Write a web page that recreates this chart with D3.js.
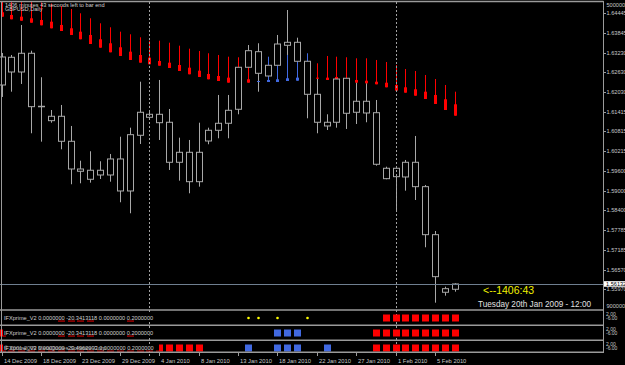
<!DOCTYPE html>
<html>
<head>
<meta charset="utf-8">
<script src="https://cdn.jsdelivr.net/npm/d3@7"></script>
<style>
html, body { margin: 0; padding: 0; background: #000; }
#root { width: 625px; height: 365px; overflow: hidden; }
text { font-family: "Liberation Sans", Arial, sans-serif; }
</style>
</head>
<body>
<div id="root"></div>
<script>
// daily bars, 14 Dec 2009 .. 5 Feb 2010
var opens = [1.62243,1.62642,1.62642,1.63217,1.61589,1.61282,1.61282,1.60514,1.59663,1.59624,1.59479,1.59479,1.59971,1.58988,1.60698,1.61343,1.61343,1.61098,1.59869,1.60176,1.59273,1.60523,1.60852,1.61067,1.61497,1.62787,1.63266,1.62519,1.62848,1.63462,1.63554,1.62971,1.61957,1.61098,1.61098,1.62449,1.61405,1.61743,1.61392,1.59685,1.59427,1.59418,1.59869,1.59120,1.57646,1.55987,1.55969];
var highs = [1.63226,1.63164,1.64086,1.63296,1.62480,1.61475,1.61629,1.60984,1.59918,1.60207,1.59900,1.60124,1.60655,1.60932,1.62344,1.61445,1.62397,1.61506,1.60625,1.60554,1.61085,1.60932,1.61936,1.61936,1.63063,1.63471,1.63524,1.62949,1.63779,1.64546,1.63696,1.63164,1.62827,1.61343,1.62550,1.62673,1.62335,1.62734,1.61782,1.59734,1.59725,1.59940,1.60677,1.59172,1.57759,1.56049,1.56153];
var lows = [1.61875,1.62037,1.62274,1.60760,1.60502,1.61085,1.60268,1.59194,1.59224,1.59243,1.59356,1.59273,1.58641,1.58303,1.60431,1.61199,1.60554,1.59633,1.59304,1.58917,1.59120,1.60422,1.60606,1.60606,1.61343,1.62642,1.62037,1.62458,1.62765,1.63164,1.62827,1.61220,1.60760,1.60861,1.60932,1.60892,1.61045,1.61098,1.59765,1.59347,1.58404,1.58997,1.58711,1.57259,1.55557,1.55772,1.55895];
var closes = [1.63103,1.63094,1.63217,1.61577,1.61580,1.61147,1.60514,1.59663,1.59593,1.59347,1.59624,1.59971,1.58988,1.60717,1.61405,1.61251,1.61085,1.59869,1.60176,1.59273,1.60176,1.60852,1.61067,1.61466,1.62787,1.63296,1.62602,1.62848,1.63502,1.63554,1.62971,1.61957,1.61098,1.60984,1.62427,1.61374,1.61743,1.61383,1.59808,1.59366,1.59685,1.59869,1.59120,1.57646,1.56356,1.55877,1.56132];

// trend stop indicator on the main window
var sigTop = [1.65007,1.64946,1.64915,1.64853,1.64777,1.64746,1.64669,1.64577,1.64445,1.64292,1.64138,1.64015,1.63880,1.63800,1.63708,1.63604,1.63604,1.63542,1.63450,1.63358,1.63287,1.63217,1.63164,1.63112,1.63094,1.63072,1.62366,1.63112,1.63103,1.63164,1.63318,1.63217,1.62909,1.63134,1.63112,1.63094,1.63063,1.63063,1.63011,1.62949,1.62857,1.62734,1.62673,1.62550,1.62427,1.62243,1.62037];
var sigMark = [1.64476,1.64393,1.64341,1.64291,1.64239,1.64187,1.64086,1.63984,1.63880,1.63779,1.63647,1.63524,1.63401,1.63266,1.63164,1.63082,1.62980,1.62928,1.62857,1.62774,1.62682,1.62581,1.62519,1.62468,1.62406,1.62418,1.62366,1.62397,1.62418,1.62449,1.62468,1.62473,1.62468,1.62468,1.62489,1.62418,1.62397,1.62375,1.62344,1.62313,1.62243,1.62172,1.62111,1.62037,1.61936,1.61804,1.61650];
var sigBottom = [1.64341,1.64261,1.64218,1.64156,1.64076,1.63984,1.63901,1.63779,1.63647,1.63502,1.63389,1.63247,1.63134,1.63011,1.62928,1.62879,1.62836,1.62765,1.62673,1.62572,1.62489,1.62418,1.62366,1.62315,1.62289,1.62315,1.62335,1.62335,1.62335,1.62366,1.62375,1.62397,1.62436,1.62397,1.62418,1.62326,1.62315,1.62295,1.62264,1.62172,1.62068,1.62007,1.61914,1.61813,1.61660,1.61475,1.61300];
var sigDir = [-1,-1,-1,-1,-1,-1,-1,-1,-1,-1,-1,-1,-1,-1,-1,-1,-1,-1,-1,-1,-1,-1,-1,-1,-1,-1,1,1,1,1,1,1,-1,-1,-1,-1,-1,-1,-1,-1,-1,-1,-1,-1,-1,-1,-1];

var priceTicks = [1.64445,1.63845,1.63230,1.62630,1.62030,1.61415,1.60815,1.60215,1.59600,1.59000,1.58400,1.57785,1.57185,1.56570,1.55970];
var lastPrice = 1.56132;

var dateBars = [0,4,8,12,16,20,24,28,32,36,40,44];
var dateLabels = ["14 Dec 2009","18 Dec 2009","23 Dec 2009","29 Dec 2009","4 Jan 2010","8 Jan 2010","13 Jan 2010","18 Jan 2010","22 Jan 2010","27 Jan 2010","1 Feb 2010","5 Feb 2010"];
var separatorBars = [15, 40];

// IFXprime_V2 sub windows (early squares sit behind the window labels)
var p1Dots = [25,26,28,31];
var p1Red = [6,7,8,9,13,39,40,41,42,43,44,45,46];
var p2Blue = [28,29,30];
var p2Red = [0,6,7,8,9,13,38,39,40,41,42,43,44,45,46];
var p3Blue = [25,28,29,30,33];
var p3Red = [0,1,2,3,4,5,6,7,8,9,10,11,12,13,14,15,16,17,18,19,20,38,39,40,41,42,43,44,45,46];
var panelLabels = [
    "IFXprime_V2 0.0000000 -20.3413118 0.0000000 0.2000000",
    "IFXprime_V2 0.0000000 -20.3413118 0.0000000 0.2000000",
    "IFXprime_V2 0.0000000 -20.4962093 0.0000000 0.2000000"
];

window.onload = function () {
    var W = 625, H = 365;
    var axisX = 603.5;
    var frame = "#9a9a9a", candle = "#a8a8a8";

    var svg = d3.select("#root")
        .append("svg")
        .attr("width", W)
        .attr("height", H)
        .style("background", "#000");

    var x = d3.scaleLinear().domain([0, 46]).range([1.6, 454.7]);
    var y = d3.scaleLinear().domain([1.55363, 1.64761]).range([309, 3]);
    var px = function (i) { return Math.round(x(i)) + 0.5; };

    svg.append("defs").append("clipPath").attr("id", "mainClip")
        .append("rect").attr("x", 0).attr("y", 2).attr("width", axisX).attr("height", 307.5);

    var main = svg.append("g").attr("clip-path", "url(#mainClip)");
    var bars = d3.range(opens.length);

    // period separators
    svg.selectAll(".sep").data(separatorBars).enter().append("line")
        .attr("x1", function (d) { return px(d); })
        .attr("x2", function (d) { return px(d); })
        .attr("y1", 2).attr("y2", 357)
        .attr("stroke", "#a0a0a0").attr("stroke-dasharray", "2,2");

    // candle wicks
    main.selectAll(".wick").data(bars).enter().append("line")
        .attr("x1", function (i) { return px(i); })
        .attr("x2", function (i) { return px(i); })
        .attr("y1", function (i) { return y(highs[i]); })
        .attr("y2", function (i) { return y(lows[i]); })
        .attr("stroke", candle);

    // indicator over the wicks, under the bodies
    var sigColor = function (i) { return sigDir[i] > 0 ? "#4169e1" : "#ff0000"; };
    main.selectAll(".sigLine").data(bars).enter().append("line")
        .attr("x1", function (i) { return px(i); })
        .attr("x2", function (i) { return px(i); })
        .attr("y1", function (i) { return y(sigTop[i]); })
        .attr("y2", function (i) { return y(sigBottom[i]); })
        .attr("stroke", sigColor).attr("stroke-width", 1);
    main.selectAll(".sigMark").data(bars).enter().append("rect")
        .attr("x", function (i) { return px(i) - 1.5; })
        .attr("width", 3)
        .attr("y", function (i) { return y(sigMark[i]); })
        .attr("height", function (i) { return Math.max(1, y(sigBottom[i]) - y(sigMark[i])); })
        .attr("fill", sigColor);

    // candle bodies
    main.selectAll(".body").data(bars).enter().append("rect")
        .attr("x", function (i) { return px(i) - 3; })
        .attr("width", 6)
        .attr("y", function (i) { return y(Math.max(opens[i], closes[i])); })
        .attr("height", function (i) { return Math.max(0.5, Math.abs(y(opens[i]) - y(closes[i]))); })
        .attr("fill", "#000").attr("stroke", candle);

    // bid line
    main.append("line")
        .attr("x1", 0).attr("x2", axisX)
        .attr("y1", Math.round(y(lastPrice)) + 0.5).attr("y2", Math.round(y(lastPrice)) + 0.5)
        .attr("stroke", "#6f7f90");

    // texts inside main window
    svg.append("text").attr("x", 5).attr("y", 7).attr("font-size", 5.6).attr("fill", "#d0d0d0")
        .text("1406 minutes 43 seconds left to bar end");
    svg.append("text").attr("x", 5).attr("y", 11).attr("font-size", 5.6).attr("fill", "#d0d0d0")
        .text("GBPUSD,Daily");
    svg.append("text").attr("x", 483).attr("y", 294).attr("font-size", 10.5).attr("fill", "#f0f000")
        .text("<--1406:43");
    svg.append("text").attr("x", 478).attr("y", 307).attr("font-size", 8.2).attr("fill", "#e0e0e0")
        .text("Tuesday 20th Jan 2009 - 12:00");

    // sub windows
    var panels = [
        { top: 311, bottom: 324.5, mid: 318, label: panelLabels[0], red: p1Red, blue: [], dots: p1Dots },
        { top: 326, bottom: 339.5, mid: 333, label: panelLabels[1], red: p2Red, blue: p2Blue, dots: [] },
        { top: 341, bottom: 352, mid: 348, label: panelLabels[2], red: p3Red, blue: p3Blue, dots: [] }
    ];
    panels.forEach(function (p) {
        var g = svg.append("g");
        g.selectAll(".sq").data(p.red.map(function (b) { return { b: b, c: "#ff0000" }; })
            .concat(p.blue.map(function (b) { return { b: b, c: "#4169e1" }; })))
            .enter().append("rect")
            .attr("x", function (d) { return px(d.b) - 3.5; })
            .attr("y", p.mid - 3.5)
            .attr("width", 7).attr("height", 7)
            .attr("fill", function (d) { return d.c; });
        g.selectAll(".dot").data(p.dots).enter().append("circle")
            .attr("cx", function (b) { return px(b); })
            .attr("cy", p.mid)
            .attr("r", 1.3)
            .attr("fill", "#ffff00");
        g.append("rect").attr("x", 3).attr("y", p.mid - 4).attr("width", 156).attr("height", 6.6).attr("fill", "#000");
        g.append("text").attr("x", 4).attr("y", p.mid + 2).attr("font-size", 5.6).attr("fill", "#d0d0d0")
            .text(p.label);
        g.append("text").attr("x", 606).attr("y", p.top + 5).attr("font-size", 5).attr("fill", "#c8c8c8").text("2.00");
        g.append("text").attr("x", 606).attr("y", p.top + 9).attr("font-size", 5).attr("fill", "#c8c8c8").text("-6.00");
    });
    svg.append("text").attr("x", 4).attr("y", 350).attr("font-size", 5.6).attr("fill", "#b0b0b0")
        .text("\u00a9 2001-2009 MetaQuotes Software Corp.");

    // frames
    var hLines = [1.5, 310, 325.2, 340.2, 352.2];
    svg.selectAll(".hl").data(hLines).enter().append("line")
        .attr("x1", 0).attr("x2", axisX)
        .attr("y1", function (d) { return d; }).attr("y2", function (d) { return d; })
        .attr("stroke", frame).attr("stroke-width", 1.4);
    svg.append("line").attr("x1", 1.5).attr("x2", 1.5).attr("y1", 1.5).attr("y2", 352)
        .attr("stroke", frame);
    svg.append("line").attr("x1", axisX).attr("x2", axisX).attr("y1", 1).attr("y2", 353)
        .attr("stroke", frame);

    // price axis
    var ya = svg.append("g");
    ya.selectAll(".pt").data(priceTicks).enter().append("line")
        .attr("x1", axisX).attr("x2", axisX + 2.5)
        .attr("y1", function (d) { return Math.round(y(d)) + 0.5; })
        .attr("y2", function (d) { return Math.round(y(d)) + 0.5; })
        .attr("stroke", frame);
    ya.selectAll(".pl").data(priceTicks).enter().append("text")
        .attr("x", 606.5)
        .attr("y", function (d) { return y(d) + 2; })
        .attr("font-size", 5.6).attr("fill", "#c8c8c8")
        .text(function (d) { return d.toFixed(5); });
    ya.append("text").attr("x", 606.5).attr("y", 7).attr("font-size", 5.6).attr("fill", "#c8c8c8").text("5000000");
    ya.append("text").attr("x", 606.5).attr("y", 308).attr("font-size", 5.6).attr("fill", "#c8c8c8").text("9000000");
    ya.append("rect").attr("x", 604).attr("y", y(lastPrice) - 2.8).attr("width", 21).attr("height", 5.6).attr("fill", "#fff");
    ya.append("text").attr("x", 606).attr("y", y(lastPrice) + 2).attr("font-size", 5.6).attr("fill", "#000")
        .text(lastPrice.toFixed(5));

    // date axis
    var xa = svg.append("g");
    xa.selectAll(".dt").data(dateBars).enter().append("line")
        .attr("x1", function (b) { return px(b); }).attr("x2", function (b) { return px(b); })
        .attr("y1", 352).attr("y2", 356)
        .attr("stroke", frame);
    xa.selectAll(".dl").data(dateBars).enter().append("text")
        .attr("x", function (b) { return px(b) + 1.5; })
        .attr("y", 363)
        .attr("font-size", 5.8).attr("fill", "#c8c8c8")
        .text(function (b, k) { return dateLabels[k]; });
};
</script>
</body>
</html>
